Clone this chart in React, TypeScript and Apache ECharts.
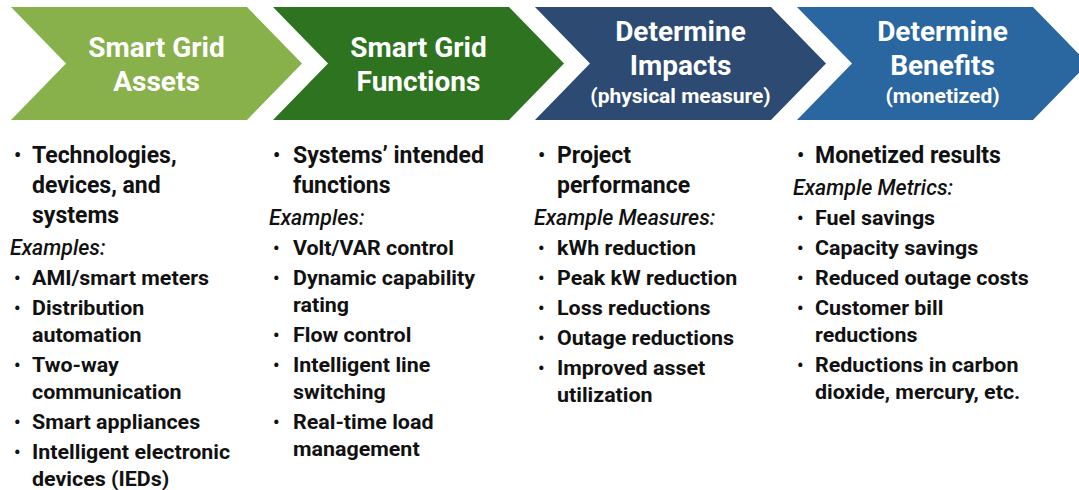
import React, { useEffect, useRef } from "react";
import * as echarts from "echarts";

const headerTitles: string[][] = [
  ["Smart Grid", "Assets"],
  ["Smart Grid", "Functions"],
  ["Determine", "Impacts"],
  ["Determine", "Benefits"],
];
const headerSubtitles: string[] = ["", "", "(physical measure)", "(monetized)"];
const headerColors: string[] = ["#88B04B", "#2E7320", "#2C4A72", "#2A669F"];

const mainPoints: string[][] = [
  ["Technologies,", "devices, and", "systems"],
  ["Systems\u2019 intended", "functions"],
  ["Project", "performance"],
  ["Monetized results"],
];
const exampleLabels: string[] = ["Examples:", "Examples:", "Example Measures:", "Example Metrics:"];
const exampleItems: string[][][] = [
  [["AMI/smart meters"], ["Distribution", "automation"], ["Two-way", "communication"], ["Smart appliances"], ["Intelligent electronic", "devices (IEDs)"]],
  [["Volt/VAR control"], ["Dynamic capability", "rating"], ["Flow control"], ["Intelligent line", "switching"], ["Real-time load", "management"]],
  [["kWh reduction"], ["Peak kW reduction"], ["Loss reductions"], ["Outage reductions"], ["Improved asset", "utilization"]],
  [["Fuel savings"], ["Capacity savings"], ["Reduced outage costs"], ["Customer bill", "reductions"], ["Reductions in carbon", "dioxide, mercury, etc."]],
];

export default function App() {
  const ref = useRef<HTMLDivElement>(null);
  useEffect(() => {
    if (!ref.current) return;
    const chart = echarts.init(ref.current, null, { renderer: "svg" });
    const elements: any[] = [];
    const step = 262;
    const top = 7;
    const bottom = 120;
    const mid = (top + bottom) / 2;
    const depth = 55;
    const bodyW = 236;
    const FONT = "Roboto, 'Liberation Sans', sans-serif";
    headerTitles.forEach((lines, i) => {
      const x0 = 11 + i * step;
      const x1 = x0 + bodyW;
      elements.push({
        type: "polygon",
        shape: {
          points: [
            [x0, top], [x1, top], [x1 + depth, mid], [x1, bottom], [x0, bottom], [x0 + depth, mid],
          ],
        },
        style: { fill: headerColors[i] },
      });
      const cx = (x0 + depth + x1) / 2;
      const sub = headerSubtitles[i];
      const ys = sub ? [31, 65] : [47, 81];
      lines.forEach((t, j) => {
        elements.push({
          type: "text",
          x: cx,
          y: ys[j],
          style: { text: t, fill: "#fff", font: `bold 28px ${FONT}`, textAlign: "center", textVerticalAlign: "middle" },
        });
      });
      if (sub) {
        elements.push({
          type: "text",
          x: cx,
          y: 96,
          style: { text: sub, fill: "#fff", font: `bold 21px ${FONT}`, textAlign: "center", textVerticalAlign: "middle" },
        });
      }
    });

    const bulletX = [14, 273, 538, 797];
    const textX = [32, 293, 557, 815];
    const ink = "#111";
    mainPoints.forEach((lines, i) => {
      let y = 155;
      elements.push({
        type: "text", x: bulletX[i], y,
        style: { text: "\u2022", fill: ink, font: `bold 20px ${FONT}`, textAlign: "left", textVerticalAlign: "middle" },
      });
      lines.forEach((t, j) => {
        if (j > 0) y += 30;
        elements.push({
          type: "text", x: textX[i], y,
          style: { text: t, fill: ink, font: `bold 23px ${FONT}`, textAlign: "left", textVerticalAlign: "middle" },
        });
      });
      y += 32;
      elements.push({
        type: "text", x: bulletX[i] - 4, y, scaleX: 0.97,
        style: { text: exampleLabels[i], fill: ink, font: `italic 500 22px ${FONT}`, textAlign: "left", textVerticalAlign: "middle" },
      });
      y += 31;
      exampleItems[i].forEach((item, k) => {
        if (k > 0) y += 30;
        elements.push({
          type: "text", x: bulletX[i], y,
          style: { text: "\u2022", fill: ink, font: `bold 18px ${FONT}`, textAlign: "left", textVerticalAlign: "middle" },
        });
        item.forEach((t, j) => {
          if (j > 0) y += 27;
          elements.push({
            type: "text", x: textX[i], y, scaleX: 1.02,
            style: { text: t, fill: ink, font: `bold 21px ${FONT}`, textAlign: "left", textVerticalAlign: "middle" },
          });
        });
      });
    });

    chart.setOption({
      animation: false,
      backgroundColor: "#ffffff",
      graphic: { elements },
    });
    return () => chart.dispose();
  }, []);
  return <div ref={ref} style={{ position: "fixed", left: 0, top: 0, width: 1079, height: 490 }} />;
}
